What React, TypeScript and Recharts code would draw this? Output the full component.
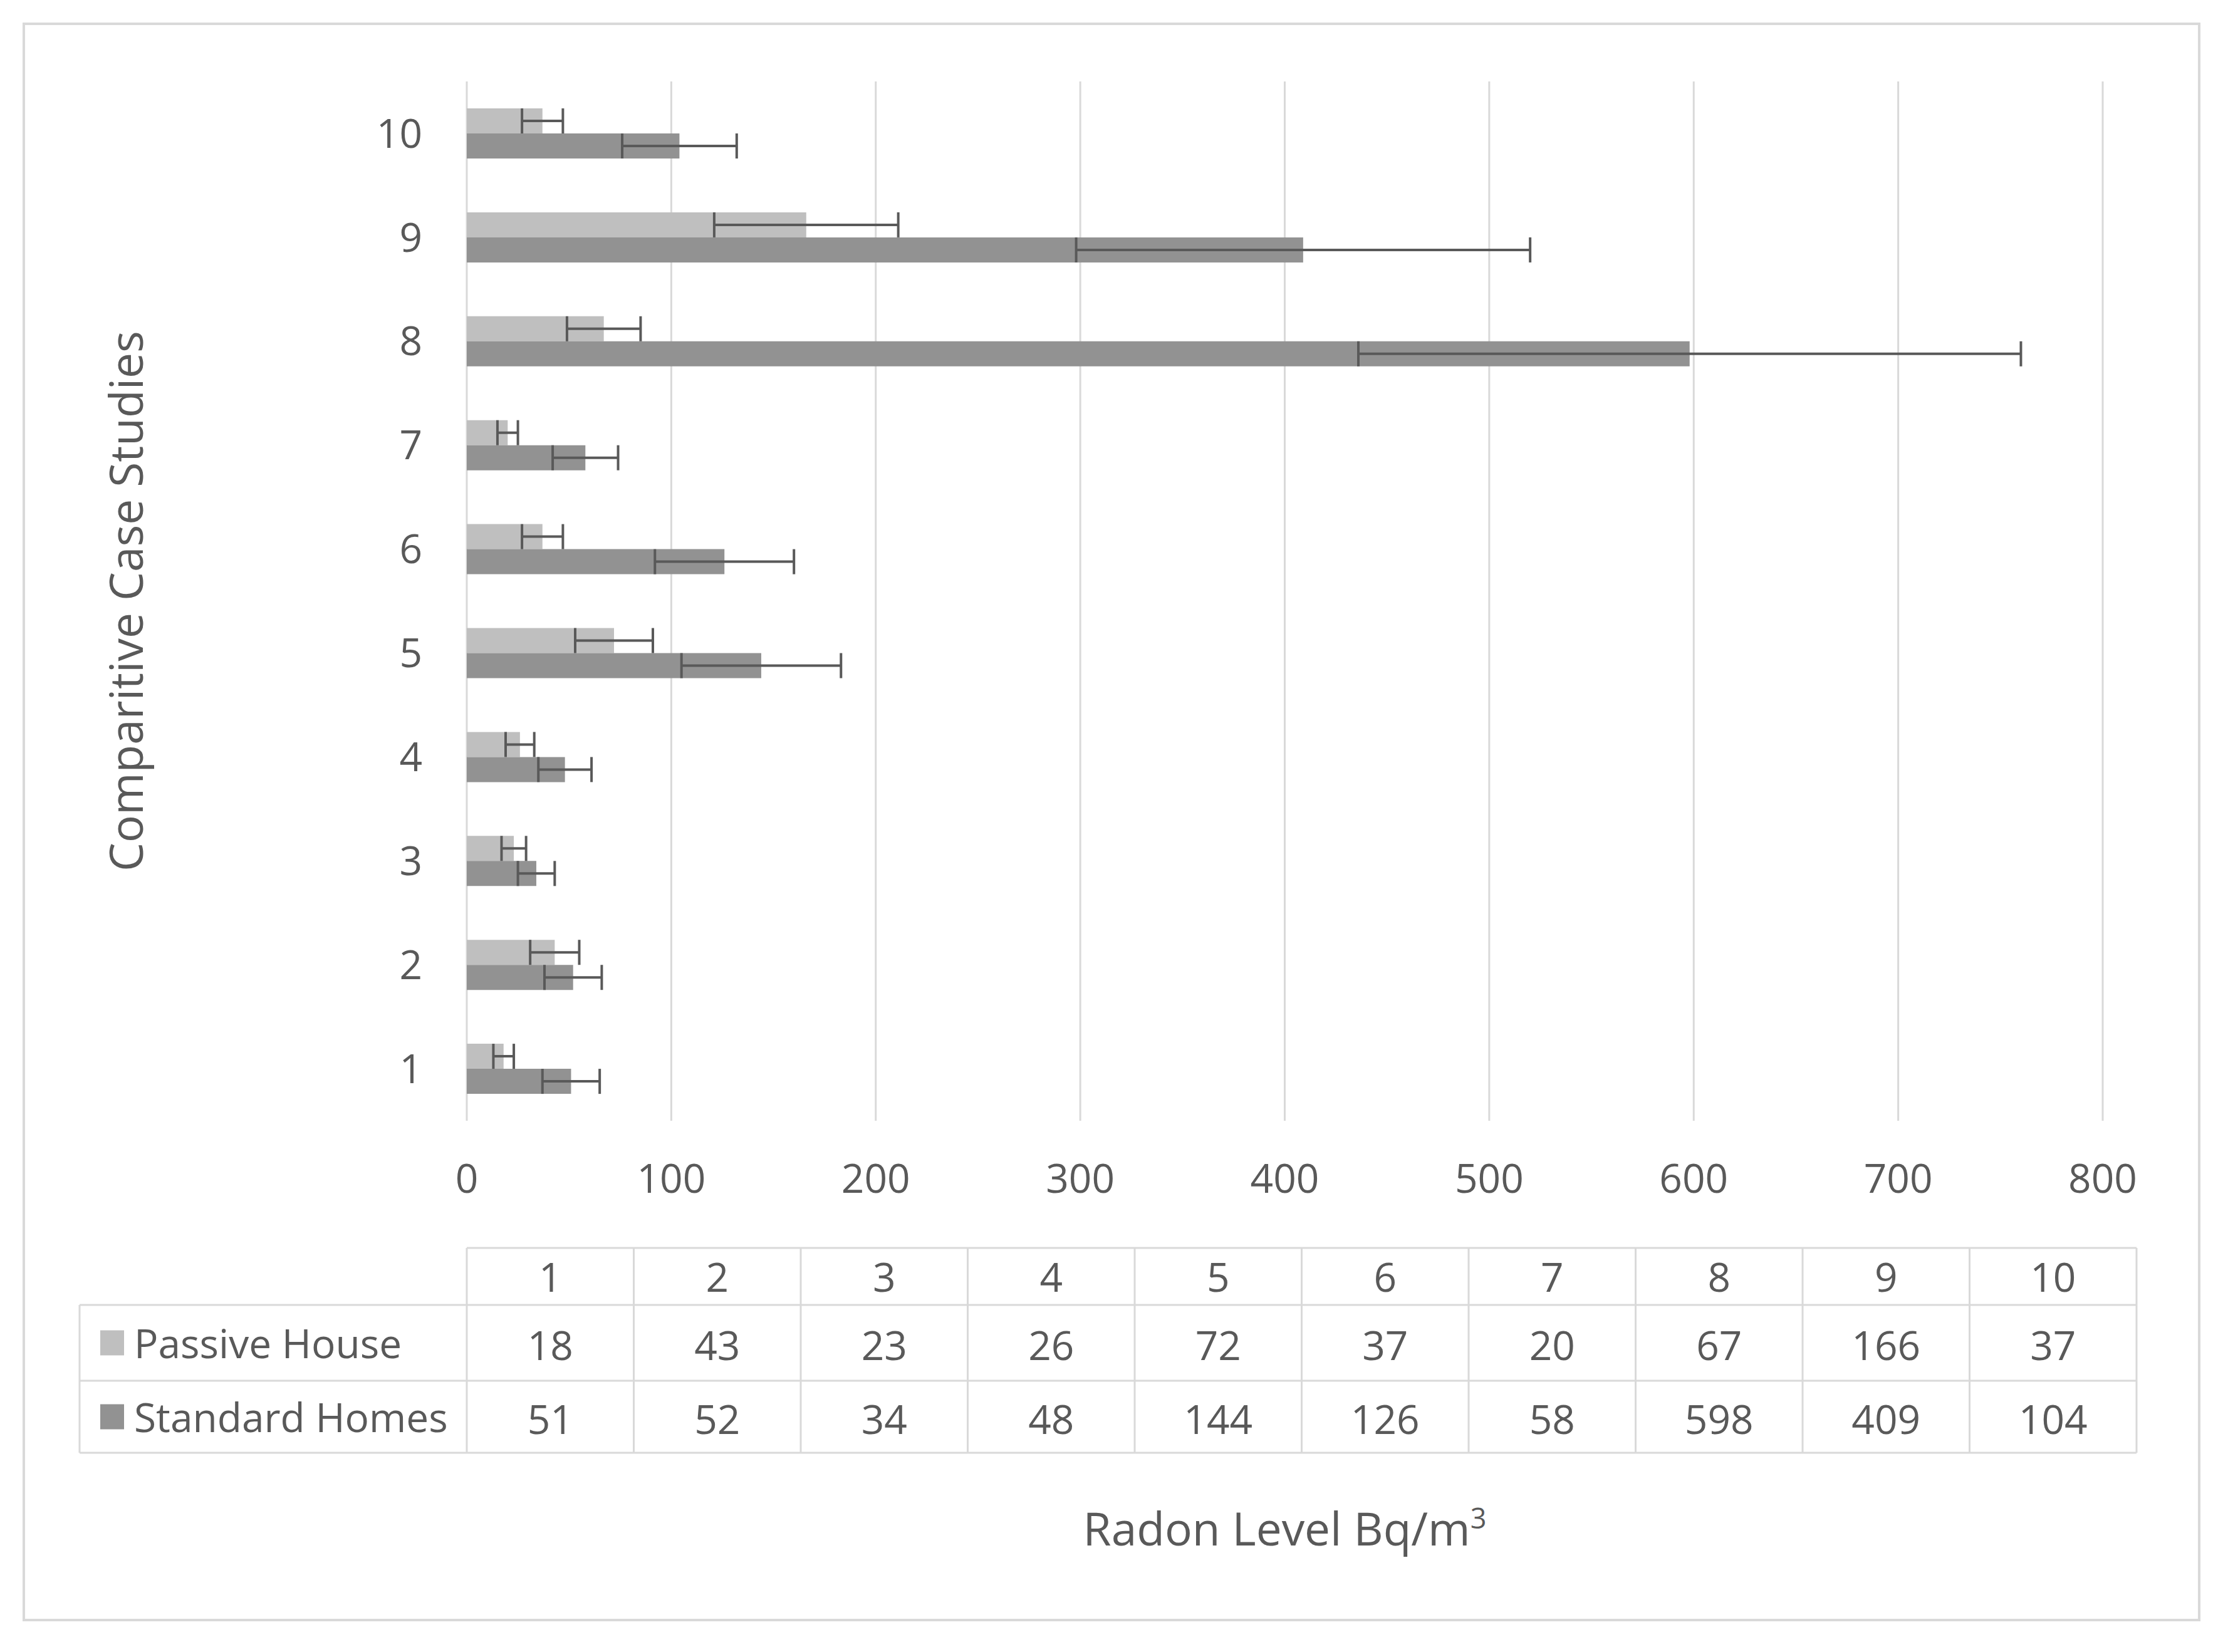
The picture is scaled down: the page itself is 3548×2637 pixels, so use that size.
import React from "react";
import { BarChart, Bar, XAxis, YAxis, CartesianGrid, ErrorBar } from "recharts";

// values (case studies 1..10)
const cases = ["1", "2", "3", "4", "5", "6", "7", "8", "9", "10"];
const passiveHouse = [18, 43, 23, 26, 72, 37, 20, 67, 166, 37];
const standardHomes = [51, 52, 34, 48, 144, 126, 58, 598, 409, 104];
const passiveErr = [5, 12, 6, 7, 19, 10, 5, 18, 45, 10];
const standardErr = [14, 14, 9, 13, 39, 34, 16, 162, 111, 28];
const xTicks = [0, 100, 200, 300, 400, 500, 600, 700, 800];

const PASSIVE = "#BFBFBF";
const STANDARD = "#929292";
const TEXT = "#595959";
const GRID = "#D9D9D9";
const FONT = "'Open Sans', sans-serif";
const FS = 64;
const TITLE_FS = 73;

// case 10 on top, case 1 at the bottom
const chartData = cases
  .map((name, i) => ({
    name,
    passive: passiveHouse[i],
    passiveErr: passiveErr[i],
    standard: standardHomes[i],
    standardErr: standardErr[i],
  }))
  .reverse();

const W = 3548;
const H = 2637;

// data table geometry
const tblLeft = 127;
const colLeft = 745;
const colW = 266.5;
const rowY = [1992, 2083, 2204, 2319];

function DataTable() {
  const right = colLeft + colW * cases.length;
  const rows = [
    { label: "Passive House", color: PASSIVE, values: passiveHouse },
    { label: "Standard Homes", color: STANDARD, values: standardHomes },
  ];
  return (
    <svg width={W} height={H} style={{ position: "absolute", left: 0, top: 0, pointerEvents: "none" }}>
      <g stroke={GRID} strokeWidth={3}>
        <line x1={colLeft} x2={right} y1={rowY[0]} y2={rowY[0]} />
        {rowY.slice(1).map((y) => (
          <line key={y} x1={tblLeft} x2={right} y1={y} y2={y} />
        ))}
        <line x1={tblLeft} x2={tblLeft} y1={rowY[1]} y2={rowY[3]} />
        {cases.map((c, i) => (
          <line key={c} x1={colLeft + colW * i} x2={colLeft + colW * i} y1={rowY[0]} y2={rowY[3]} />
        ))}
        <line x1={right} x2={right} y1={rowY[0]} y2={rowY[3]} />
      </g>
      <g fill={TEXT} fontFamily={FONT} fontSize={FS} textAnchor="middle" dominantBaseline="central">
        {cases.map((c, i) => (
          <text key={c} x={colLeft + colW * (i + 0.5)} y={(rowY[0] + rowY[1]) / 2}>
            {c}
          </text>
        ))}
        {rows.map((r, ri) =>
          r.values.map((v, i) => (
            <text key={r.label + i} x={colLeft + colW * (i + 0.5)} y={(rowY[ri + 1] + rowY[ri + 2]) / 2 + 3}>
              {v}
            </text>
          ))
        )}
      </g>
      {rows.map((r, ri) => {
        const cy = (rowY[ri + 1] + rowY[ri + 2]) / 2;
        return (
          <g key={r.label}>
            <rect x={160} y={cy - 20} width={38} height={40} fill={r.color} />
            <text x={214} y={cy} fill={TEXT} fontFamily={FONT} fontSize={FS} dominantBaseline="central">
              {r.label}
            </text>
          </g>
        );
      })}
    </svg>
  );
}

export default function App() {
  return (
    <div style={{ position: "relative", width: W, height: H, background: "#fff", fontFamily: FONT }}>
      <style>{"body{margin:0}"}</style>
      <div
        style={{
          position: "absolute",
          left: 36,
          top: 36,
          width: 3476,
          height: 2552,
          border: `4px solid ${GRID}`,
          boxSizing: "border-box",
        }}
      />
      <div style={{ position: "absolute", left: 0, top: 0 }}>
        <BarChart
          width={W}
          height={1960}
          data={chartData}
          layout="vertical"
          margin={{ top: 130, right: 192, left: 40, bottom: 51 }}
          barGap={0}
          barSize={40}
        >
          <CartesianGrid vertical horizontal={false} stroke={GRID} strokeWidth={3} />
          <XAxis
            type="number"
            domain={[0, 800]}
            ticks={xTicks}
            axisLine={false}
            tickLine={false}
            tickSize={0}
            tickMargin={70}
            height={120}
            tick={{ fill: TEXT, fontSize: FS, fontFamily: FONT }}
          />
          <YAxis
            type="category"
            dataKey="name"
            width={705}
            axisLine={false}
            tickLine={false}
            tickSize={0}
            tickMargin={71}
            tick={{ fill: TEXT, fontSize: FS, fontFamily: FONT }}
            label={({ viewBox }: any) => (
              <text
                x={viewBox.x + 159}
                y={viewBox.y + viewBox.height / 2}
                transform={`rotate(-90, ${viewBox.x + 159}, ${viewBox.y + viewBox.height / 2})`}
                textAnchor="middle"
                dominantBaseline="central"
                fill={TEXT}
                fontSize={TITLE_FS}
                fontFamily={FONT}
              >
                Comparitive Case Studies
              </text>
            )}
          />
          <Bar dataKey="passive" name="Passive House" fill={PASSIVE} isAnimationActive={false}>
            <ErrorBar dataKey="passiveErr" direction="x" width={20} stroke={TEXT} strokeWidth={4} />
          </Bar>
          <Bar dataKey="standard" name="Standard Homes" fill={STANDARD} isAnimationActive={false}>
            <ErrorBar dataKey="standardErr" direction="x" width={20} stroke={TEXT} strokeWidth={4} />
          </Bar>
        </BarChart>
      </div>
      <DataTable />
      <div
        style={{
          position: "absolute",
          left: 745,
          width: 2611,
          top: 2390,
          textAlign: "center",
          color: TEXT,
          fontSize: TITLE_FS,
          lineHeight: "98px",
        }}
      >
        Radon Level Bq/m<sup style={{ fontSize: 45, verticalAlign: "top", lineHeight: "66px" }}>3</sup>
      </div>
    </div>
  );
}
